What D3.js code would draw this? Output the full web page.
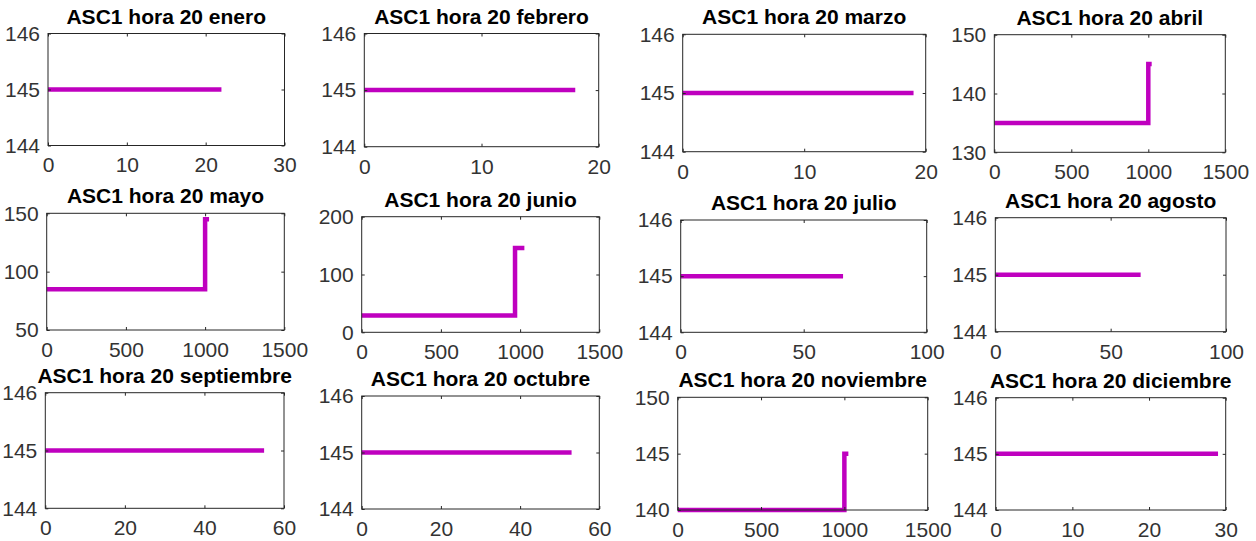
<!DOCTYPE html>
<html>
<head>
<meta charset="utf-8">
<script src="https://cdn.jsdelivr.net/npm/d3@7"></script>
<style>
  html, body { margin: 0; padding: 0; background: #fff; }
  svg { display: block; }
  text { font-family: "Liberation Sans", Arial, Helvetica, sans-serif; }
</style>
</head>
<body>
<svg id="fig" width="1256" height="541"></svg>
<script>
// Monthly series for ASC1 at hour 20
const months = ["enero", "febrero", "marzo", "abril", "mayo", "junio",
                "julio", "agosto", "septiembre", "octubre", "noviembre", "diciembre"];

// Step-line vertices (x = sample index, y = value)
const seriesX = [
  [0, 22],
  [0, 18],
  [0, 19],
  [0, 1000, 1000, 1022],
  [0, 1000, 1000, 1025],
  [0, 968, 968, 1027],
  [0, 66],
  [0, 63],
  [0, 55],
  [0, 53],
  [0, 1000, 1000, 1024],
  [0, 29]
];
const seriesY = [
  [145, 145],
  [145, 145],
  [145, 145],
  [135, 135, 145, 145],
  [85, 85, 145, 145],
  [29, 29, 146, 146],
  [145, 145],
  [145, 145],
  [145, 145],
  [145, 145],
  [140, 140, 145, 145],
  [145, 145]
];

// Axis limits and tick labels per panel
const xDomains = [[0, 30], [0, 20], [0, 20], [0, 1500], [0, 1500], [0, 1500],
                  [0, 100], [0, 100], [0, 60], [0, 60], [0, 1500], [0, 30]];
const yDomains = [[144, 146], [144, 146], [144, 146], [130, 150], [50, 150], [0, 200],
                  [144, 146], [144, 146], [144, 146], [144, 146], [140, 150], [144, 146]];
const xTicks = [[0, 10, 20, 30], [0, 10, 20], [0, 10, 20], [0, 500, 1000, 1500],
                [0, 500, 1000, 1500], [0, 500, 1000, 1500], [0, 50, 100], [0, 50, 100],
                [0, 20, 40, 60], [0, 20, 40, 60], [0, 500, 1000, 1500], [0, 10, 20, 30]];
const yTicks = [[144, 145, 146], [144, 145, 146], [144, 145, 146], [130, 140, 150],
                [50, 100, 150], [0, 100, 200], [144, 145, 146], [144, 145, 146],
                [144, 145, 146], [144, 145, 146], [140, 145, 150], [144, 145, 146]];

// Panel boxes: [left, top, right, bottom] in pixels
const boxes = [
  [48, 33.5, 284.5, 145.5], [364.3, 33.5, 598.7, 146.7], [682.7, 34.3, 925.7, 151.7], [994.3, 34.7, 1225.3, 152.3],
  [46.7, 213.3, 284.3, 330], [361.7, 216.7, 599.3, 332.3], [680.7, 220, 926.7, 332.3], [995.3, 217.7, 1226, 331.7],
  [45.3, 392.7, 284, 508.3], [361.7, 396, 599.3, 509], [677.7, 397.3, 927.7, 510], [995.7, 397.7, 1225.7, 510]
];

const axisColor = "#262626";
const labelColor = "#333333";
const lineColor = "#bf00bf";
const tickFont = 21;
const titleFont = 21;
const tickLen = 3;

const svg = d3.select("#fig");

months.forEach((m, i) => {
  const [l, t, r, b] = boxes[i];
  const x = d3.scaleLinear().domain(xDomains[i]).range([l, r]);
  const y = d3.scaleLinear().domain(yDomains[i]).range([b, t]);
  const g = svg.append("g").attr("class", "panel");

  // data line
  const pts = seriesX[i].map((v, k) => [v, seriesY[i][k]]);
  g.append("path")
    .datum(pts)
    .attr("fill", "none")
    .attr("stroke", lineColor)
    .attr("stroke-width", 4.5)
    .attr("stroke-linejoin", "miter")
    .attr("d", d3.line().x(d => x(d[0])).y(d => y(d[1])));

  // axes: bottom/left carry labels, top/right carry ticks only (inward ticks)
  const fmt = d3.format("d");
  const ax = g.append("g").attr("transform", `translate(0,${b})`)
    .call(d3.axisBottom(x).tickValues(xTicks[i]).tickFormat(fmt).tickSizeInner(-tickLen).tickSizeOuter(0).tickPadding(tickLen + 9));
  const ay = g.append("g").attr("transform", `translate(${l},0)`)
    .call(d3.axisLeft(y).tickValues(yTicks[i]).tickFormat(fmt).tickSizeInner(-tickLen).tickSizeOuter(0).tickPadding(tickLen + 5));
  const at = g.append("g").attr("transform", `translate(0,${t})`)
    .call(d3.axisTop(x).tickValues(xTicks[i]).tickFormat("").tickSizeInner(-tickLen).tickSizeOuter(0));
  const ar = g.append("g").attr("transform", `translate(${r},0)`)
    .call(d3.axisRight(y).tickValues(yTicks[i]).tickFormat("").tickSizeInner(-tickLen).tickSizeOuter(0));

  [ax, ay, at, ar].forEach(a => {
    a.select(".domain").remove();
    a.selectAll("line").attr("stroke", axisColor).attr("stroke-width", 1);
    a.selectAll("text").attr("fill", labelColor).attr("font-size", tickFont)
      .attr("font-family", null);
  });

  // box outline
  g.append("rect")
    .attr("x", l).attr("y", t).attr("width", r - l).attr("height", b - t)
    .attr("fill", "none").attr("stroke", axisColor).attr("stroke-width", 1);

  // title
  g.append("text")
    .attr("x", (l + r) / 2).attr("y", t - 10)
    .attr("text-anchor", "middle")
    .attr("font-size", titleFont).attr("font-weight", "bold")
    .attr("fill", "#000")
    .text(`ASC1 hora 20 ${m}`);
});
</script>
</body>
</html>
